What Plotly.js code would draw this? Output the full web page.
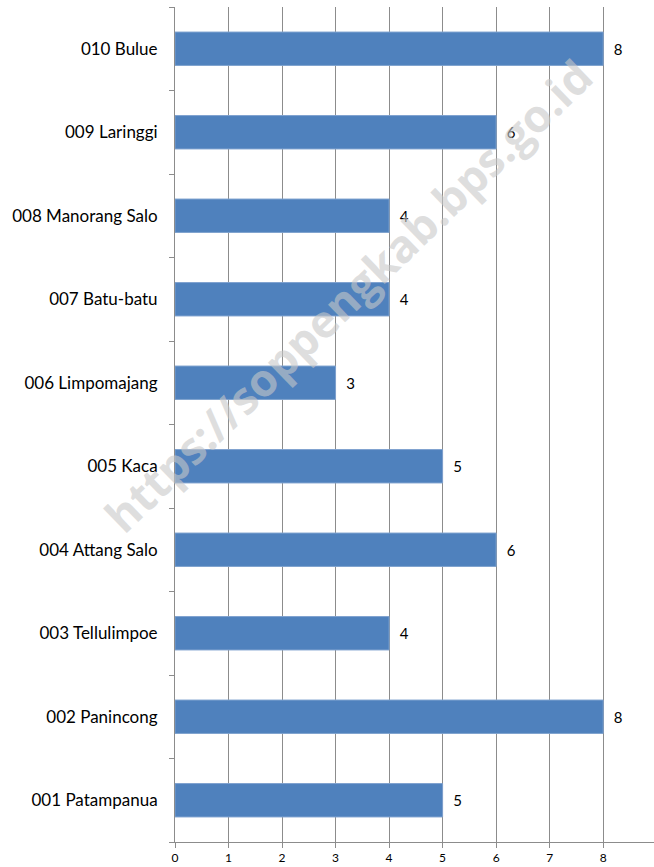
<!DOCTYPE html>
<html>
<head>
<meta charset="utf-8">
<script src="https://cdn.plot.ly/plotly-3.0.1.min.js"></script>
<style>html,body{margin:0;padding:0;background:#fff;}</style>
</head>
<body>
<div id="chart" style="width:654px;height:867px;"></div>
<script>
const categories = ["001 Patampanua","002 Panincong","003 Tellulimpoe","004 Attang Salo","005 Kaca","006 Limpomajang","007 Batu-batu","008 Manorang Salo","009 Laringgi","010 Bulue"];
const values = [5, 8, 4, 6, 5, 3, 4, 4, 6, 8];
const xTicks = [0,1,2,3,4,5,6,7,8,9];
const watermark = "https://soppengkab.bps.go.id";

const font = "Lato, 'Open Sans', 'Liberation Sans', sans-serif";
const trace = {
  type: "bar",
  orientation: "h",
  y: categories,
  x: values,
  marker: {color: "#4F81BD", line: {color: "#7FA2CF", width: 1}},
  texttemplate: "\u00a0\u00a0%{x}",
  textposition: "outside",
  textfont: {family: font, size: 15, color: "#000"},
  cliponaxis: false,
  hoverinfo: "none"
};
const layout = {
  width: 654, height: 867,
  margin: {l: 175, r: 0, t: 7, b: 25, pad: 0},
  paper_bgcolor: "#fff", plot_bgcolor: "#fff",
  showlegend: false,
  bargap: 0.6,
  xaxis: {
    range: [0, 8.95],
    tickvals: xTicks,
    ticktext: xTicks.map(String),
    showgrid: true, gridcolor: "#8C8C8C", gridwidth: 1,
    zeroline: false,
    showline: true, linecolor: "#8C8C8C", linewidth: 1,
    ticks: "outside", ticklen: 5, tickcolor: "#8C8C8C",
    tickfont: {family: font, size: 12, color: "#000"},
    fixedrange: true
  },
  yaxis: {
    type: "category",
    categoryorder: "array", categoryarray: categories,
    tickson: "boundaries",
    showgrid: false, zeroline: false,
    showline: true, linecolor: "#8C8C8C", linewidth: 1,
    ticks: "outside", ticklen: 5, tickcolor: "#8C8C8C",
    tickfont: {family: font, size: 17, color: "#000"},
    ticklabelstandoff: 13,
    fixedrange: true
  },
  annotations: [{
    text: "<b>" + watermark + "</b>",
    xref: "paper", yref: "paper",
    x: 0.36, y: 0.655,
    showarrow: false,
    textangle: -44,
    font: {family: "'Open Sans', 'DejaVu Sans', sans-serif", size: 45, color: "rgba(200,200,200,0.6)"}
  }]
};
Plotly.newPlot("chart", [trace], layout, {displayModeBar: false, staticPlot: true});
</script>
</body>
</html>
